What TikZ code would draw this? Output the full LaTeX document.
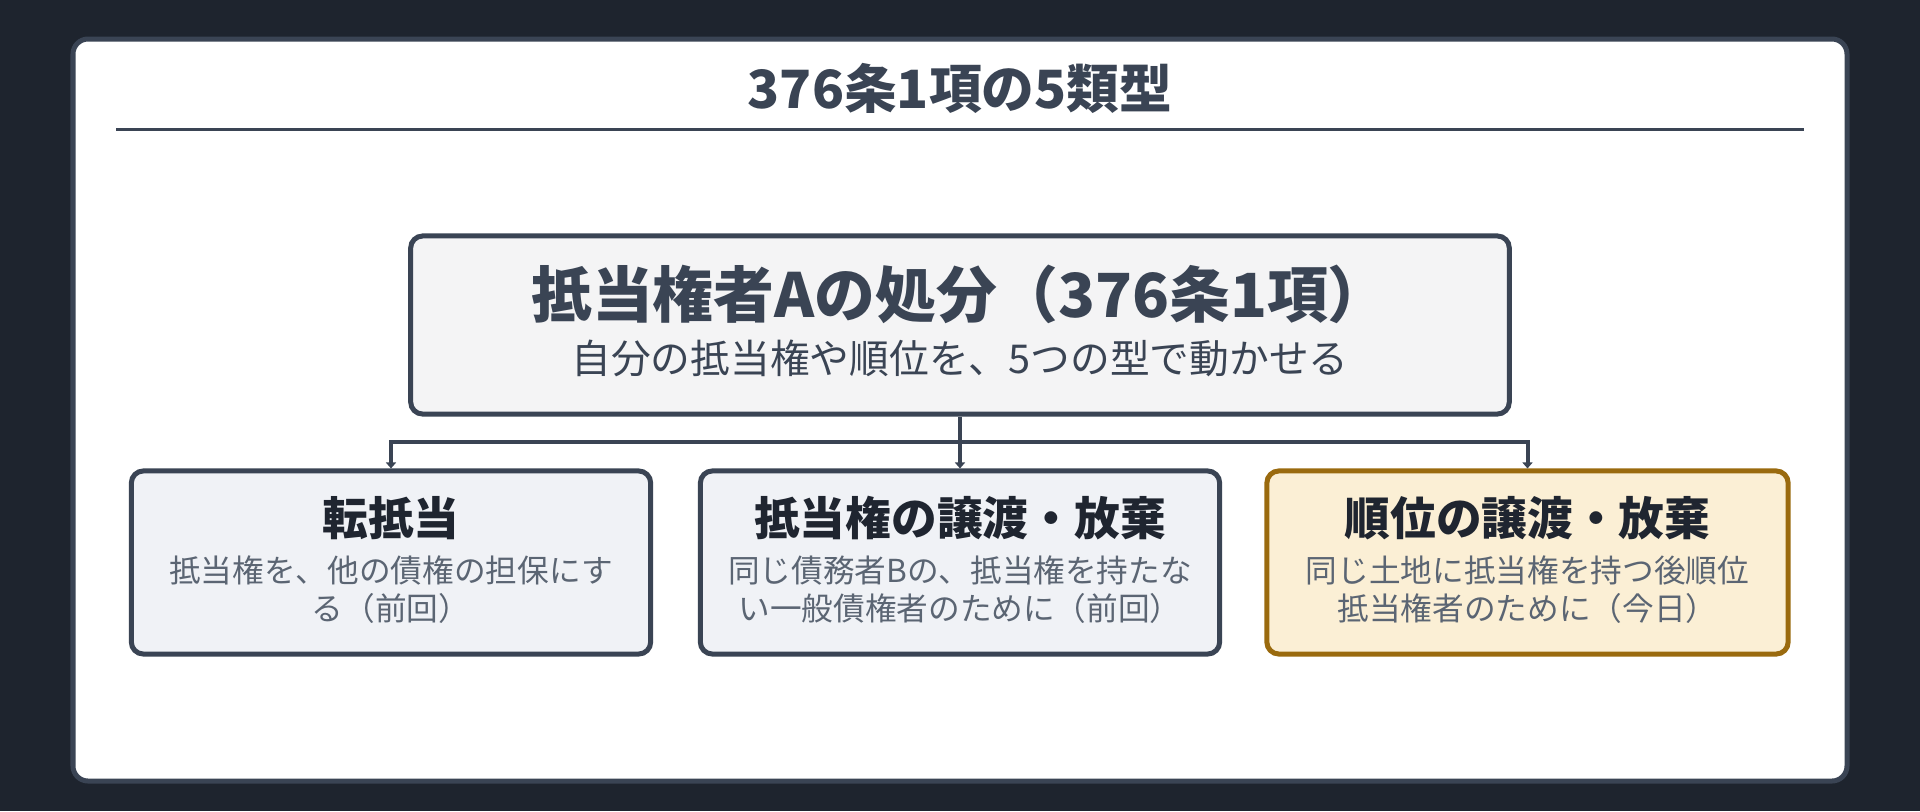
\documentclass[tikz,border=0pt]{standalone}
\usepackage{fontspec}
\setmainfont{Noto Sans CJK JP}
\usetikzlibrary{arrows.meta}
\definecolor{bgdark}{HTML}{1E242E}
\definecolor{slate}{HTML}{3A4454}
\definecolor{boxgray}{HTML}{F4F4F5}
\definecolor{childgray}{HTML}{F0F2F6}
\definecolor{cream}{HTML}{FBEFD5}
\definecolor{gold}{HTML}{9A6A0E}
\definecolor{inktext}{HTML}{1F2530}
\definecolor{desctext}{HTML}{5B6573}
\tikzset{
  card/.style={draw=slate, fill=white, line width=0.05cm, rounded corners=0.15cm},
  mainbox/.style={draw=slate, fill=boxgray, line width=0.05cm, rounded corners=0.12cm, minimum width=10.98cm, minimum height=1.78cm, inner sep=0pt},
  childbox/.style={draw=slate, fill=childgray, line width=0.05cm, rounded corners=0.12cm, minimum width=5.19cm, minimum height=1.83cm, inner sep=0pt},
  goldbox/.style={childbox, draw=gold, fill=cream},
  pagetitle/.style={text=slate, font=\bfseries\fontsize{15}{18}\selectfont, inner sep=0pt},
  maintitle/.style={text=slate, font=\bfseries\fontsize{17.3}{20}\selectfont, inner sep=0pt},
  mainsub/.style={text=slate, font=\fontsize{11.3}{13}\selectfont, inner sep=0pt},
  childtitle/.style={text=inktext, font=\bfseries\fontsize{13}{15}\selectfont, inner sep=0pt},
  childdesc/.style={text=desctext, font=\fontsize{9}{10.8}\selectfont, align=center, inner sep=0pt},
  conn/.style={draw=slate, line width=0.04cm},
  tip/.style={-{Triangle[width=0.1cm,length=0.06cm]}}
}
\begin{document}
\begin{tikzpicture}[x=0.01cm,y=-0.01cm]
\fill[bgdark] (0,0) rectangle (1920,811);
\useasboundingbox (0,0) rectangle (1920,811);
\draw[card] (73,39) rectangle (1847,781);
\node[pagetitle] (ttl) at (960,88) {376条1項の5類型};
\coordinate (ruleL) at (116,129);
\coordinate (ruleR) at (1804,129);
\draw[slate, line width=0.03cm] (ruleL) -- (ruleR);

\node[mainbox] (main) at (960,325) {};
\node[maintitle] (mainT) at (960,294) {抵当権者Aの処分（376条1項）};
\node[mainsub] (mainS) at (960,358) {自分の抵当権や順位を、5つの型で動かせる};

\node[childbox] (c1) at (391,562.5) {};
\node[childbox] (c2) at (960,562.5) {};
\node[goldbox, minimum width=5.21cm] (c3) at (1527.5,562.5) {};

\node[childtitle] (c1T) at (391,518) {転抵当};
\node[childdesc] (c1D) at (391,590) {抵当権を、他の債権の担保にす\\る（前回）};
\node[childtitle] (c2T) at (960,518) {抵当権の譲渡・放棄};
\node[childdesc] (c2D) at (960,590) {同じ債務者Bの、抵当権を持たな\\い一般債権者のために（前回）};
\node[childtitle] (c3T) at (1527.5,518) {順位の譲渡・放棄};
\node[childdesc] (c3D) at (1527.5,590) {同じ土地に抵当権を持つ後順位\\抵当権者のために（今日）};

\coordinate (hub) at (960,442);
\draw[conn] (main.south) -- (hub);
\draw[conn, tip] (hub) -| (c1.north);
\draw[conn, tip] (hub) -- (c2.north);
\draw[conn, tip] (hub) -| (c3.north);
\end{tikzpicture}
\end{document}
